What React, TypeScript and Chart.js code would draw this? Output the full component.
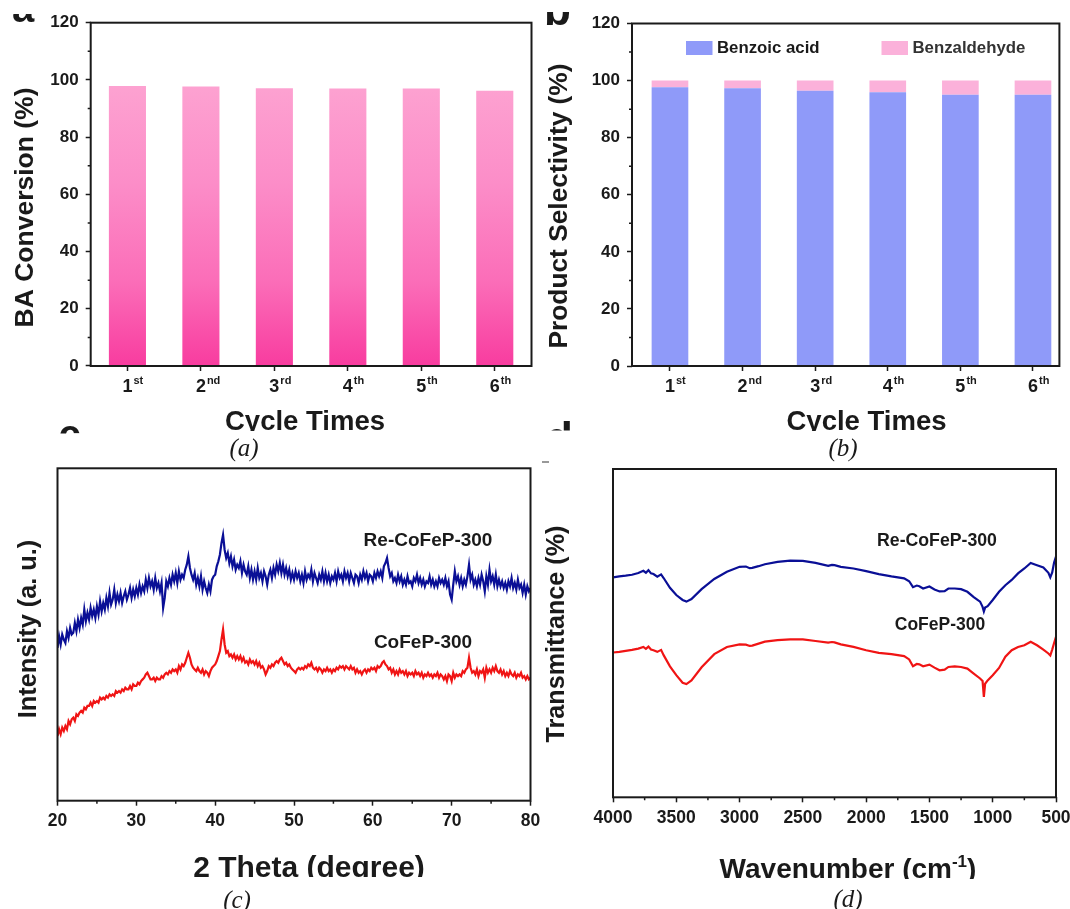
import React, { useEffect, useRef } from 'react';
import { Chart, registerables } from 'chart.js';

Chart.register(...registerables);

const W = 1070;
const H = 909;
const FONT = '"Liberation Sans", Arial, Helvetica, sans-serif';
const SERIF = '"Liberation Serif", "Times New Roman", serif';
const INK = '#1a1a1a';

// ---------- (a) / (b) data ----------
const CYCLE_NUM = ['1', '2', '3', '4', '5', '6'];
const CYCLE_SUP = ['st', 'nd', 'rd', 'th', 'th', 'th'];
const BA_CONVERSION = [97.9, 97.7, 97.1, 97.0, 97.0, 96.2];
const BENZOIC_ACID = [97.7, 97.3, 96.4, 95.9, 95.0, 95.0];
const BENZALDEHYDE = [2.3, 2.7, 3.6, 4.1, 5.0, 5.0];
const PRODUCT_NAMES = ['Benzoic acid', 'Benzaldehyde'];
const PERCENT_TICKS = [0, 20, 40, 60, 80, 100, 120];
const PERCENT_MINOR = [10, 30, 50, 70, 90, 110];

// ---------- (c) XRD data ----------
const SERIES_NAMES = ['Re-CoFeP-300', 'CoFeP-300'];
const XRD_START = 20;
const XRD_STEP = 0.2;
const XRD_RE = [
  46, 49.5, 47, 50, 48.5, 47.5, 51, 49, 52, 50,
  50.5, 53.5, 51, 54.5, 52, 55, 53, 57.5, 54, 56.5,
  54.5, 58, 55.5, 57.5, 55, 58.5, 56, 60, 57, 59.5,
  57.5, 61, 58.5, 62.5, 59, 60.5, 63.5, 59.5, 62, 60,
  62.5, 59.5, 61.5, 63, 60.5, 62, 64, 61, 63.5, 61.5,
  64, 62, 65, 62.5, 64.5, 63, 66.5, 64, 67, 64.5,
  66, 63.5, 67, 64, 65.5, 63, 65.5, 58, 61, 66,
  64.5, 67, 65, 68, 66, 68.5, 65.5, 69, 66.5, 68,
  67, 69.5, 71, 73.5, 70, 68, 66.5, 68.5, 65, 67,
  64.5, 67.5, 63.5, 66, 64, 62.5, 65, 63, 66.5, 67.5,
  68, 70.5, 72, 74, 77.5, 80, 75.5, 73, 74.5, 71.5,
  73.5, 70.5, 72.5, 69.5, 71, 70, 72, 68.5, 71, 69,
  68, 70.5, 67, 69.5, 66.5, 69, 66.5, 70, 67, 68.5,
  66, 69, 67.5, 65, 68, 69.5, 67, 70, 68, 71,
  69, 71.5, 68.5, 71, 68, 70, 67.5, 69.5, 66.5, 68.5,
  66.5, 69, 67, 68.5, 66, 68, 65.5, 69, 66.5, 68,
  67, 69.5, 66, 68.5, 67, 65.5, 68, 66.5, 69, 66,
  68.5, 66, 68, 65.5, 67.5, 66.5, 68.5, 66, 69, 67,
  68, 66, 69, 67, 68.5, 66, 68.5, 67, 65.5, 68,
  67.5, 65.5, 68, 66.5, 69, 67, 68.5, 66, 68, 67.5,
  66, 68.5, 67, 69, 67.5, 69, 67, 70.5, 71.5, 73,
  70, 67.5, 68.5, 66, 67, 65.5, 68, 66, 67.5, 65,
  66.5, 65, 67.5, 65.5, 66, 64.5, 67, 66, 68, 65.5,
  67, 65, 66.5, 64.5, 66, 65.5, 67.5, 65, 66.5, 64.5,
  66, 64.5, 67, 65.5, 66.5, 65, 67, 64.5, 66, 62,
  60.5, 65, 69, 66, 67.5, 65, 67, 64.5, 66.5, 65,
  67.5, 71, 66.5, 68, 65, 66.5, 64.5, 67, 65, 68,
  66, 63, 67.5, 65, 69.5, 66, 67.5, 65, 68, 64.5,
  66.5, 64.5, 66, 64, 65.5, 63.5, 66, 64.5, 67, 64,
  65.5, 63.5, 66.5, 64, 65, 62.5, 65, 62, 64.5, 63,
  64,
];
const XRD_FRESH = [
  19.5, 21.5, 20, 22, 21, 22.5, 21.5, 24, 23, 24.5,
  25, 24, 26, 25.5, 26.5, 27, 26.5, 28, 27.5, 28.5,
  28.5, 29.5, 28.5, 30, 29.5, 30, 29.5, 31, 30.5, 31,
  30.5, 31.5, 31, 32, 31.5, 32, 31.5, 33, 32.5, 33,
  32.5, 33.5, 33, 34, 33.5, 33.5, 34.5, 33.5, 35, 34.5,
  34.5, 35.5, 35, 36, 36.5, 37, 38, 38.5, 37.5, 36.5,
  36.5, 37, 36, 37, 36.5, 36.5, 37.5, 37, 38, 38.5,
  38, 39, 38.5, 39.5, 39, 39.5, 38.5, 40.5, 39.5, 41,
  40.5, 41.5, 43, 44.5, 43, 41, 40, 39.5, 39, 40,
  39, 38.5, 39.5, 38, 39, 38.5, 37.5, 39, 40, 40.5,
  41, 42, 43.5, 45, 48.5, 51.5, 47, 44.5, 45, 43.5,
  44, 43, 44, 42.5, 43.5, 42.5, 43.5, 42, 43, 41.5,
  42, 41, 42.5, 41.5, 42, 41, 42, 40.5, 41.5, 40,
  40.5, 39.5, 38, 39, 40.5, 40, 41, 40.5, 41.5, 42,
  41.5, 42.5, 43, 42, 41, 41.5, 40.5, 41, 40, 39.5,
  39, 38.5, 39.5, 40, 39.5, 40, 39.5, 40.5, 40, 41,
  40.5, 41.5, 40, 39.5, 40, 39, 40, 39.5, 38.5, 39.5,
  39, 40, 39, 39.5, 38.5, 39.5, 39, 40, 39.5, 40.5,
  40, 40.5, 39.5, 40.5, 40, 39.5, 40.5, 39.5, 40, 38.5,
  39.5, 38.5, 39, 38, 39, 39.5, 38.5, 39.5, 39, 40,
  39.5, 40, 39, 40.5, 40, 40.5, 41.5, 42, 41, 40.5,
  39.5, 40, 38.5, 39.5, 38, 39, 38, 39.5, 38.5, 39,
  38, 39, 37.5, 38.5, 38, 38.5, 37.5, 39, 38, 38.5,
  37.5, 38.5, 37, 38, 37.5, 38.5, 37.5, 38, 37, 38,
  37.5, 38.5, 37, 38, 37.5, 36.5, 37.5, 36, 38, 37.5,
  36, 38.5, 37, 38, 37.5, 38, 37.5, 39, 38.5, 39.5,
  40, 43, 40, 38.5, 39, 38, 39.5, 37.5, 39, 38.5,
  39.5, 37, 40, 38.5, 39.5, 38.5, 40, 39, 40.5, 39,
  38.5, 39.5, 38, 39, 37.5, 38.5, 37.5, 39, 38, 37.5,
  38.5, 37, 38, 37.5, 38.5, 37, 37.5, 36.5, 37.5, 36.5,
  37,
];
const XRD_TICKS = [20, 30, 40, 50, 60, 70, 80];
const XRD_MINOR = [25, 35, 45, 55, 65, 75];

// ---------- (d) FTIR data ----------
const FTIR_WAVENUMBER = [
  4000, 3950, 3900, 3850, 3800, 3760, 3740, 3720, 3700, 3680,
  3650, 3620, 3600, 3550, 3500, 3450, 3420, 3380, 3300, 3200,
  3100, 3000, 2950, 2920, 2900, 2850, 2800, 2700, 2600, 2500,
  2400, 2300, 2270, 2250, 2200, 2100, 2000, 1900, 1800, 1700,
  1660, 1630, 1600, 1580, 1550, 1500, 1460, 1420, 1380, 1350,
  1300, 1250, 1200, 1150, 1100, 1080, 1070, 1060, 1040, 1000,
  950, 900, 850, 800, 750, 700, 650, 600, 560, 545,
  530, 515, 500,
];
const FTIR_RE = [
  67.0, 67.3, 67.5, 67.8, 68.3, 69.0, 68.4, 69.2, 68.2, 68.0,
  67.2, 67.9, 66.8, 63.8, 61.6, 60.1, 59.6, 60.4, 63.4, 66.5,
  68.7, 70.2, 70.3, 69.8, 69.9, 70.4, 71.0, 71.7, 72.1, 72.0,
  71.4, 70.5, 70.8, 70.7, 70.2, 69.7, 68.9, 68.0, 67.3, 66.7,
  65.8, 64.0, 64.5, 64.3, 63.6, 64.2, 63.3, 62.7, 62.8, 63.6,
  63.6, 63.4, 62.6, 61.0, 59.6, 58.0, 56.6, 57.8, 58.2, 60.1,
  62.6, 64.6, 66.2, 68.2, 69.7, 71.4, 70.7, 70.0, 68.4, 67.0,
  68.5, 71.5, 73.3,
];
const FTIR_FRESH = [
  44.1, 44.3, 44.6, 44.9, 45.3, 45.8, 45.2, 45.9, 45.0, 44.8,
  44.3, 44.9, 43.3, 39.9, 37.2, 34.9, 34.5, 35.6, 39.6, 43.6,
  45.8, 46.6, 46.5, 46.1, 46.2, 46.8, 47.4, 47.9, 48.1, 48.1,
  47.6, 47.1, 47.3, 47.2, 46.6, 45.8, 44.8, 44.0, 43.6, 43.0,
  42.0, 39.9, 40.6, 40.5, 39.9, 40.4, 39.5, 38.7, 38.9, 39.7,
  39.9, 39.7, 39.2, 37.7, 36.2, 35.4, 30.6, 34.6, 35.6, 37.2,
  39.4, 42.8, 44.8, 45.8, 46.3, 47.4, 46.3, 45.0, 43.8, 43.2,
  45.0, 47.0, 48.9,
];
const FTIR_TICKS = [4000, 3500, 3000, 2500, 2000, 1500, 1000, 500];
const FTIR_MINOR = [3750, 3250, 2750, 2250, 1750, 1250, 750];

// ---------- colours ----------
const BLUE_BAR = '#8f9af9';
const PINK_BAR = '#fbb1da';
const LINE_BLUE = '#0a0f96';
const LINE_RED = '#f01414';

type Txt = {
  text: string;
  x: number;
  y: number;
  size: number;
  rot?: number;
  align?: CanvasTextAlign;
  baseline?: CanvasTextBaseline;
  italic?: boolean;
  serif?: boolean;
  weight?: string;
  color?: string;
  clip?: [number, number, number, number];
};

function drawTxt(ctx: CanvasRenderingContext2D, t: Txt) {
  ctx.save();
  if (t.clip) {
    ctx.beginPath();
    ctx.rect(t.clip[0], t.clip[1], t.clip[2], t.clip[3]);
    ctx.clip();
  }
  ctx.translate(t.x, t.y);
  if (t.rot) ctx.rotate(t.rot);
  ctx.font = `${t.italic ? 'italic ' : ''}${t.weight ?? 'bold'} ${t.size}px ${t.serif ? SERIF : FONT}`;
  ctx.fillStyle = t.color ?? INK;
  ctx.textAlign = t.align ?? 'center';
  ctx.textBaseline = t.baseline ?? 'middle';
  ctx.fillText(t.text, 0, 0);
  ctx.restore();
}

function drawFrame(chart: any) {
  const { left, top, right, bottom } = chart.chartArea;
  const ctx = chart.ctx;
  ctx.save();
  ctx.strokeStyle = INK;
  ctx.lineWidth = 2;
  ctx.strokeRect(left, top, right - left, bottom - top);
  ctx.restore();
}

function drawMinor(chart: any, axis: 'x' | 'y', values: number[], len = 3) {
  const s = chart.scales[axis];
  const { left, bottom } = chart.chartArea;
  const ctx = chart.ctx;
  ctx.save();
  ctx.strokeStyle = INK;
  ctx.lineWidth = 1.5;
  ctx.beginPath();
  values.forEach((v) => {
    const p = s.getPixelForValue(v);
    if (axis === 'x') {
      ctx.moveTo(p, bottom);
      ctx.lineTo(p, bottom + len);
    } else {
      ctx.moveTo(left, p);
      ctx.lineTo(left - len, p);
    }
  });
  ctx.stroke();
  ctx.restore();
}

function drawCycleLabels(chart: any, baseline: number) {
  const ctx = chart.ctx;
  const xs = chart.scales.x;
  ctx.save();
  ctx.fillStyle = INK;
  ctx.textBaseline = 'alphabetic';
  CYCLE_NUM.forEach((n, i) => {
    const px = xs.getPixelForValue(i + 1);
    ctx.font = `bold 18px ${FONT}`;
    const w = ctx.measureText(n).width;
    ctx.textAlign = 'center';
    ctx.fillText(n, px, baseline);
    ctx.font = `bold 11px ${FONT}`;
    ctx.textAlign = 'left';
    ctx.fillText(CYCLE_SUP[i], px + w / 2 + 1, baseline - 8);
  });
  ctx.restore();
}

function tickFont(size = 17) {
  return { family: FONT, size, weight: 'bold' as const };
}

function majorGrid() {
  return {
    display: true,
    drawOnChartArea: false,
    drawTicks: true,
    tickLength: 5,
    tickWidth: 1.5,
    tickColor: INK,
    color: INK,
    offset: false,
  };
}

function fixedTicks(values: number[]) {
  return (s: any) => {
    s.ticks = values.map((v) => ({ value: v }));
  };
}

function fitX(height: number) {
  return (s: any) => {
    s.height = height;
    s.paddingLeft = 0;
    s.paddingRight = 0;
  };
}

function fitY(width: number) {
  return (s: any) => {
    s.width = width;
    s.paddingTop = 0;
    s.paddingBottom = 0;
  };
}

const baseOptions = {
  responsive: false,
  animation: false as const,
  devicePixelRatio: 1,
  events: [] as any[],
};

function percentY(width: number) {
  return {
    type: 'linear' as const,
    min: 0,
    max: 120,
    stacked: true,
    border: { display: false },
    grid: majorGrid(),
    afterBuildTicks: fixedTicks(PERCENT_TICKS),
    afterFit: fitY(width),
    ticks: { color: INK, font: tickFont(17), padding: 7, autoSkip: false },
  };
}

function cycleX(min: number, max: number) {
  return {
    type: 'linear' as const,
    min,
    max,
    offset: false,
    stacked: true,
    border: { display: false },
    grid: majorGrid(),
    afterBuildTicks: fixedTicks(CYCLE_NUM.map((_, i) => i + 1)),
    afterFit: fitX(H - 366),
    ticks: { display: false },
  };
}

function buildA(canvas: HTMLCanvasElement) {
  const texts: Txt[] = [
    { text: 'BA Conversion (%)', x: 26, y: 207.5, size: 26.5, rot: -Math.PI / 2 },
    { text: 'Cycle Times', x: 305, y: 430, size: 27.5, baseline: 'alphabetic', clip: [0, 380, 540, 51] },
    { text: '(a)', x: 244, y: 455.5, size: 25, baseline: 'alphabetic', italic: true, serif: true, weight: 'normal' },
    { text: 'a', x: 12, y: 22, size: 40, align: 'left', baseline: 'alphabetic', clip: [0, 14, 60, 9] },
  ];
  return new Chart(canvas, {
    type: 'bar',
    data: {
      datasets: [
        {
          label: 'BA Conversion',
          data: BA_CONVERSION.map((v, i) => ({ x: i + 1, y: v })),
          backgroundColor: (c: any) => {
            const ys = c.chart.scales.y;
            if (!ys || !c.chart.chartArea) return '#fb8cc6';
            const g = c.chart.ctx.createLinearGradient(0, ys.getPixelForValue(0), 0, ys.getPixelForValue(98));
            g.addColorStop(0, '#f83c9f');
            g.addColorStop(0.3, '#fb6db8');
            g.addColorStop(0.65, '#fc8dc8');
            g.addColorStop(1, '#fda2d1');
            return g;
          },
          borderWidth: 0,
          barPercentage: 0.505,
          categoryPercentage: 1,
        },
      ],
    },
    options: {
      ...baseOptions,
      layout: { padding: { left: 0, top: 22.7, right: W - 531.5, bottom: 0 } },
      plugins: { legend: { display: false }, tooltip: { enabled: false } },
      scales: { x: cycleX(0.5, 6.5) as any, y: percentY(90.7) as any },
    },
    plugins: [
      {
        id: 'decorA',
        afterDraw(chart: any) {
          drawFrame(chart);
          drawMinor(chart, 'y', PERCENT_MINOR);
          drawCycleLabels(chart, 391.5);
          texts.forEach((t) => drawTxt(chart.ctx, t));
        },
      },
    ],
  } as any);
}

function buildB(canvas: HTMLCanvasElement) {
  const texts: Txt[] = [
    { text: 'Product Selectivity (%)', x: 560, y: 206, size: 26.3, rot: -Math.PI / 2 },
    { text: 'Cycle Times', x: 866.5, y: 430, size: 27.5, baseline: 'alphabetic', clip: [540, 380, 530, 51] },
    { text: '(b)', x: 843, y: 456, size: 25, baseline: 'alphabetic', italic: true, serif: true, weight: 'normal' },
    { text: 'b', x: 544, y: 25, size: 44, align: 'left', baseline: 'alphabetic', clip: [538, 12, 40, 14] },
  ];
  return new Chart(canvas, {
    type: 'bar',
    data: {
      datasets: [
        {
          label: PRODUCT_NAMES[0],
          data: BENZOIC_ACID.map((v, i) => ({ x: i + 1, y: v })),
          backgroundColor: BLUE_BAR,
          borderWidth: 0,
          barPercentage: 0.505,
          categoryPercentage: 1,
        },
        {
          label: PRODUCT_NAMES[1],
          data: BENZALDEHYDE.map((v, i) => ({ x: i + 1, y: v })),
          backgroundColor: PINK_BAR,
          borderWidth: 0,
          barPercentage: 0.505,
          categoryPercentage: 1,
        },
      ],
    },
    options: {
      ...baseOptions,
      layout: { padding: { left: 0, top: 23.5, right: W - 1059.4, bottom: 0 } },
      plugins: { legend: { display: false }, tooltip: { enabled: false } },
      scales: { x: cycleX(0.477, 6.364) as any, y: percentY(632) as any },
    },
    plugins: [
      {
        id: 'decorB',
        afterDraw(chart: any) {
          const ctx = chart.ctx;
          drawFrame(chart);
          drawMinor(chart, 'y', PERCENT_MINOR);
          drawCycleLabels(chart, 391.5);
          // legend
          const items = [
            { name: PRODUCT_NAMES[0], color: BLUE_BAR, sx: 686, tx: 717, tc: INK },
            { name: PRODUCT_NAMES[1], color: PINK_BAR, sx: 881.5, tx: 912.5, tc: '#333' },
          ];
          items.forEach((it) => {
            ctx.save();
            ctx.fillStyle = it.color;
            ctx.fillRect(it.sx, 41, 26.5, 14);
            ctx.restore();
            drawTxt(ctx, { text: it.name, x: it.tx, y: 48.5, size: 16.8, align: 'left', color: it.tc });
          });
          texts.forEach((t) => drawTxt(ctx, t));
        },
      },
    ],
  } as any);
}

function lineX(min: number, max: number, ticks: number[], height: number, reverse = false) {
  return {
    type: 'linear' as const,
    min,
    max,
    reverse,
    offset: false,
    border: { display: false },
    grid: majorGrid(),
    afterBuildTicks: fixedTicks(ticks),
    afterFit: fitX(height),
    ticks: {
      color: INK,
      font: tickFont(17.5),
      padding: 5,
      autoSkip: false,
      maxRotation: 0,
      callback: (v: any) => String(v),
    },
  };
}

function buildC(canvas: HTMLCanvasElement) {
  const texts: Txt[] = [
    { text: 'Intensity (a. u.)', x: 29.5, y: 629, size: 25.3, rot: -Math.PI / 2 },
    { text: '2 Theta (degree)', x: 309, y: 876.5, size: 30, baseline: 'alphabetic', clip: [0, 830, 540, 47] },
    { text: '(c)', x: 237, y: 908, size: 25, baseline: 'alphabetic', italic: true, serif: true, weight: 'normal' },
    { text: SERIES_NAMES[0], x: 428, y: 540.5, size: 19 },
    { text: SERIES_NAMES[1], x: 423, y: 643, size: 19 },
    { text: 'c', x: 58.5, y: 448, size: 40, align: 'left', baseline: 'alphabetic', clip: [40, 420, 60, 13.5] },
  ];
  return new Chart(canvas, {
    type: 'line',
    data: {
      datasets: [
        {
          label: SERIES_NAMES[0],
          data: XRD_RE.map((v, i) => ({ x: XRD_START + i * XRD_STEP, y: v })),
          borderColor: LINE_BLUE,
          borderWidth: 2.2,
          pointRadius: 0,
          tension: 0,
          fill: false,
        },
        {
          label: SERIES_NAMES[1],
          data: XRD_FRESH.map((v, i) => ({ x: XRD_START + i * XRD_STEP, y: v })),
          borderColor: LINE_RED,
          borderWidth: 2.2,
          pointRadius: 0,
          tension: 0,
          fill: false,
        },
      ],
    },
    options: {
      ...baseOptions,
      layout: { padding: { left: 57.5, top: 468.3, right: W - 530.5, bottom: 0 } },
      plugins: { legend: { display: false }, tooltip: { enabled: false } },
      scales: {
        x: lineX(20, 80, XRD_TICKS, H - 800.7) as any,
        y: { display: false, min: 0, max: 100 },
      },
    },
    plugins: [
      {
        id: 'decorC',
        afterDraw(chart: any) {
          drawFrame(chart);
          drawMinor(chart, 'x', XRD_MINOR);
          texts.forEach((t) => drawTxt(chart.ctx, t));
        },
      },
    ],
  } as any);
}

function buildD(canvas: HTMLCanvasElement) {
  const texts: Txt[] = [
    { text: 'Transmittance (%)', x: 557, y: 634, size: 25.2, rot: -Math.PI / 2 },
    { text: '(d)', x: 848, y: 907, size: 25, baseline: 'alphabetic', italic: true, serif: true, weight: 'normal' },
    { text: SERIES_NAMES[0], x: 937, y: 541, size: 17.7 },
    { text: SERIES_NAMES[1], x: 940, y: 625, size: 17.5 },
    { text: 'd', x: 546, y: 453, size: 44, align: 'left', baseline: 'alphabetic', clip: [540, 418, 40, 12.5] },
  ];
  return new Chart(canvas, {
    type: 'line',
    data: {
      datasets: [
        {
          label: SERIES_NAMES[0],
          data: FTIR_RE.map((v, i) => ({ x: FTIR_WAVENUMBER[i], y: v })),
          borderColor: LINE_BLUE,
          borderWidth: 2.2,
          pointRadius: 0,
          tension: 0,
          fill: false,
        },
        {
          label: SERIES_NAMES[1],
          data: FTIR_FRESH.map((v, i) => ({ x: FTIR_WAVENUMBER[i], y: v })),
          borderColor: LINE_RED,
          borderWidth: 2.2,
          pointRadius: 0,
          tension: 0,
          fill: false,
        },
      ],
    },
    options: {
      ...baseOptions,
      layout: { padding: { left: 613, top: 469, right: W - 1056, bottom: 0 } },
      plugins: { legend: { display: false }, tooltip: { enabled: false } },
      scales: {
        x: lineX(500, 4000, FTIR_TICKS, H - 797.3, true) as any,
        y: { display: false, min: 0, max: 100 },
      },
    },
    plugins: [
      {
        id: 'decorD',
        afterDraw(chart: any) {
          const ctx = chart.ctx;
          drawFrame(chart);
          drawMinor(chart, 'x', FTIR_MINOR);
          texts.forEach((t) => drawTxt(ctx, t));
          // x title with superscript
          ctx.save();
          ctx.beginPath();
          ctx.rect(540, 830, 530, 49);
          ctx.clip();
          ctx.fillStyle = INK;
          ctx.textBaseline = 'alphabetic';
          ctx.textAlign = 'left';
          const main = 'Wavenumber (cm';
          const sup = '-1';
          const tail = ')';
          ctx.font = `bold 28px ${FONT}`;
          const wMain = ctx.measureText(main).width;
          const wTail = ctx.measureText(tail).width;
          ctx.font = `bold 17px ${FONT}`;
          const wSup = ctx.measureText(sup).width;
          const total = wMain + wSup + wTail;
          const x0 = 848 - total / 2;
          const base = 878;
          ctx.font = `bold 28px ${FONT}`;
          ctx.fillText(main, x0, base);
          ctx.font = `bold 17px ${FONT}`;
          ctx.fillText(sup, x0 + wMain, base - 11);
          ctx.font = `bold 28px ${FONT}`;
          ctx.fillText(tail, x0 + wMain + wSup, base);
          ctx.restore();
          // small stray mark
          ctx.save();
          ctx.strokeStyle = '#555';
          ctx.lineWidth = 1.2;
          ctx.beginPath();
          ctx.moveTo(542, 462);
          ctx.lineTo(549, 462);
          ctx.stroke();
          ctx.restore();
        },
      },
    ],
  } as any);
}

function Panel({ build }: { build: (c: HTMLCanvasElement) => Chart }) {
  const ref = useRef<HTMLCanvasElement | null>(null);
  useEffect(() => {
    if (!ref.current) return;
    const chart = build(ref.current);
    return () => chart.destroy();
  }, [build]);
  return (
    <canvas
      ref={ref}
      width={W}
      height={H}
      style={{ position: 'absolute', left: 0, top: 0, width: W, height: H, display: 'block' }}
    />
  );
}

export default function App() {
  return (
    <div
      style={{
        position: 'absolute',
        left: 0,
        top: 0,
        width: W,
        height: H,
        background: '#ffffff',
        overflow: 'hidden',
      }}
    >
      <Panel build={buildA} />
      <Panel build={buildB} />
      <Panel build={buildC} />
      <Panel build={buildD} />
    </div>
  );
}
